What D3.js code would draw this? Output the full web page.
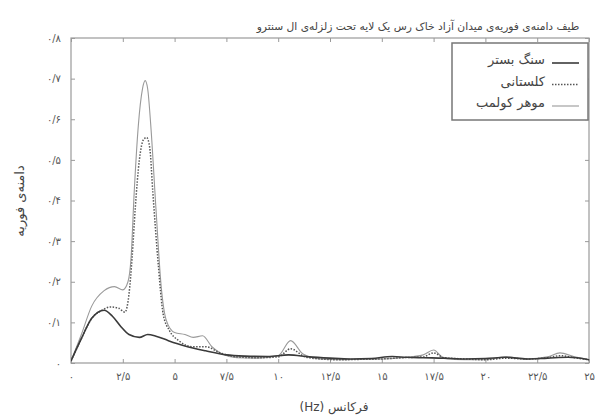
<!DOCTYPE html>
<html><head><meta charset="utf-8">
<script src="https://cdn.jsdelivr.net/npm/d3@7"></script>
<style>body{margin:0;background:#fff}svg{display:block}</style>
</head><body>
<svg id="c" width="600" height="419"></svg>
<script>
const titleText = "طیف دامنه‌ی فوریه‌ی میدان آزاد خاک رس یک لایه تحت زلزله‌ی ال سنترو";
const xLabel = "فرکانس (Hz)";
const yLabel = "دامنه‌ی فوریه";
const xTicks = [0, 2.5, 5, 7.5, 10, 12.5, 15, 17.5, 20, 22.5, 25];
const xTickLabels = ["۰","۲/۵","۵","۷/۵","۱۰","۱۲/۵","۱۵","۱۷/۵","۲۰","۲۲/۵","۲۵"];
const yTicks = [0, 0.1, 0.2, 0.3, 0.4, 0.5, 0.6, 0.7, 0.8];
const yTickLabels = ["۰","۰/۱","۰/۲","۰/۳","۰/۴","۰/۵","۰/۶","۰/۷","۰/۸"];
const seriesNames = ["سنگ بستر", "کلستانی", "موهر کولمب"];

const bedrockF = [0,0.5,1.0,1.6,2.0,2.4,2.8,3.3,3.7,4.1,4.7,5.5,6.5,7.5,8.4,9.5,10.5,11.5,12.5,13.5,14.5,15.5,16.2,17,18,19,20,21,22,23,24,25];
const bedrockV = [0.005,0.06,0.11,0.13,0.115,0.09,0.07,0.063,0.07,0.066,0.055,0.042,0.03,0.02,0.017,0.016,0.02,0.015,0.012,0.01,0.011,0.016,0.014,0.013,0.012,0.01,0.011,0.014,0.01,0.012,0.014,0.008];

const dottedF = [0,0.5,1.0,1.5,1.9,2.3,2.6,2.8,2.95,3.1,3.3,3.5,3.65,3.8,3.95,4.2,4.45,4.75,5.2,5.9,6.5,7.2,8,9,10,10.6,11.3,12,13,14,15,16,17,17.5,18,19,20,21,22,23,23.6,24.3,25];
const dottedV = [0.005,0.06,0.11,0.13,0.138,0.135,0.125,0.17,0.26,0.38,0.5,0.55,0.555,0.53,0.42,0.25,0.12,0.08,0.055,0.04,0.04,0.025,0.015,0.013,0.015,0.035,0.015,0.01,0.008,0.009,0.01,0.013,0.015,0.025,0.013,0.01,0.008,0.012,0.01,0.013,0.018,0.013,0.008];

const lightF = [0,0.5,1.0,1.6,2.1,2.5,2.75,2.9,3.05,3.25,3.45,3.58,3.7,3.85,4.1,4.35,4.6,5.0,5.5,5.9,6.35,6.8,7.3,8,9,10,10.6,11.2,12,13,14,15,16,17,17.5,18,19,20,21,22,23,23.6,24.3,25];
const lightV = [0.005,0.07,0.14,0.178,0.188,0.18,0.2,0.26,0.42,0.585,0.675,0.695,0.675,0.585,0.38,0.19,0.105,0.075,0.07,0.063,0.067,0.04,0.022,0.013,0.012,0.018,0.055,0.022,0.01,0.008,0.009,0.01,0.013,0.02,0.032,0.012,0.008,0.008,0.015,0.01,0.015,0.025,0.015,0.008];

const svg = d3.select("#c");
const L = 71, R = 589, T = 38, B = 363;
const x = d3.scaleLinear().domain([0, 25]).range([L, R]);
const y = d3.scaleLinear().domain([0, 0.8]).range([B, T]);
const axisColor = "#9a9a9a";
const textColor = "#555";
const font = "DejaVu Sans";

// frame
svg.append("rect").attr("x", L).attr("y", T).attr("width", R - L).attr("height", B - T)
  .attr("fill", "none").attr("stroke", axisColor).attr("stroke-width", 1.2);

// axes
const xb = svg.append("g").attr("transform", `translate(0,${B})`)
  .call(d3.axisBottom(x).tickValues(xTicks).tickSize(-4).tickPadding(10).tickFormat((d, i) => xTickLabels[i]));
const xt = svg.append("g").attr("transform", `translate(0,${T})`)
  .call(d3.axisTop(x).tickValues(xTicks).tickSize(-4).tickFormat(""));
const yl = svg.append("g").attr("transform", `translate(${L},0)`)
  .call(d3.axisLeft(y).tickValues(yTicks).tickSize(-4).tickPadding(10).tickFormat((d, i) => yTickLabels[i]));
const yr = svg.append("g").attr("transform", `translate(${R},0)`)
  .call(d3.axisRight(y).tickValues(yTicks).tickSize(-4).tickFormat(""));
[xb, xt, yl, yr].forEach(g => {
  g.select(".domain").remove();
  g.selectAll("line").attr("stroke", axisColor);
  g.selectAll("text").attr("fill", textColor).attr("font-family", font).attr("font-size", 10);
});

// series
const line = d3.line().x(d => x(d[0])).y(d => y(d[1])).curve(d3.curveMonotoneX);
const zip = (a, b) => a.map((v, i) => [v, b[i]]);
const styles = [
  { data: zip(bedrockF, bedrockV), stroke: "#3a3a3a", w: 1.6, dash: null },
  { data: zip(dottedF, dottedV), stroke: "#555", w: 1.5, dash: "1.5,1.5" },
  { data: zip(lightF, lightV), stroke: "#9a9a9a", w: 1.1, dash: null }
];
svg.append("clipPath").attr("id", "clp").append("rect")
  .attr("x", L).attr("y", T).attr("width", R - L).attr("height", B - T);
styles.slice().reverse().forEach(s => {
  svg.append("path").attr("d", line(s.data)).attr("fill", "none")
    .attr("stroke", s.stroke).attr("stroke-width", s.w)
    .attr("stroke-dasharray", s.dash).attr("clip-path", "url(#clp)");
});

// title & labels
svg.append("text").attr("x", 418).attr("y", 30).attr("text-anchor", "middle")
  .attr("direction", "rtl").attr("font-family", font).attr("font-size", 10.7).attr("fill", "#444")
  .text(titleText);
svg.append("text").attr("x", 334).attr("y", 411).attr("text-anchor", "middle")
  .attr("direction", "rtl").attr("font-family", font).attr("font-size", 12).attr("fill", "#444")
  .text(xLabel);
svg.append("text").attr("transform", "translate(24,201) rotate(-90)").attr("text-anchor", "middle")
  .attr("direction", "rtl").attr("font-family", font).attr("font-size", 13).attr("fill", "#444")
  .text(yLabel);

// legend
const lgX = 452, lgY = 43, lgW = 136, lgH = 77;
svg.append("rect").attr("x", lgX).attr("y", lgY).attr("width", lgW).attr("height", lgH)
  .attr("fill", "#fff").attr("stroke", "#777").attr("stroke-width", 1.5);
styles.forEach((s, i) => {
  const yy = lgY + 20 + i * 21.5;
  svg.append("line").attr("x1", 552).attr("x2", 579).attr("y1", yy).attr("y2", yy)
    .attr("stroke", s.stroke).attr("stroke-width", s.w).attr("stroke-dasharray", s.dash);
  svg.append("text").attr("x", 545).attr("y", yy + 1).attr("text-anchor", "end")
    .attr("font-family", font).attr("font-size", 13).attr("fill", "#444")
    .text(seriesNames[i]);
});
</script>
</body></html>
